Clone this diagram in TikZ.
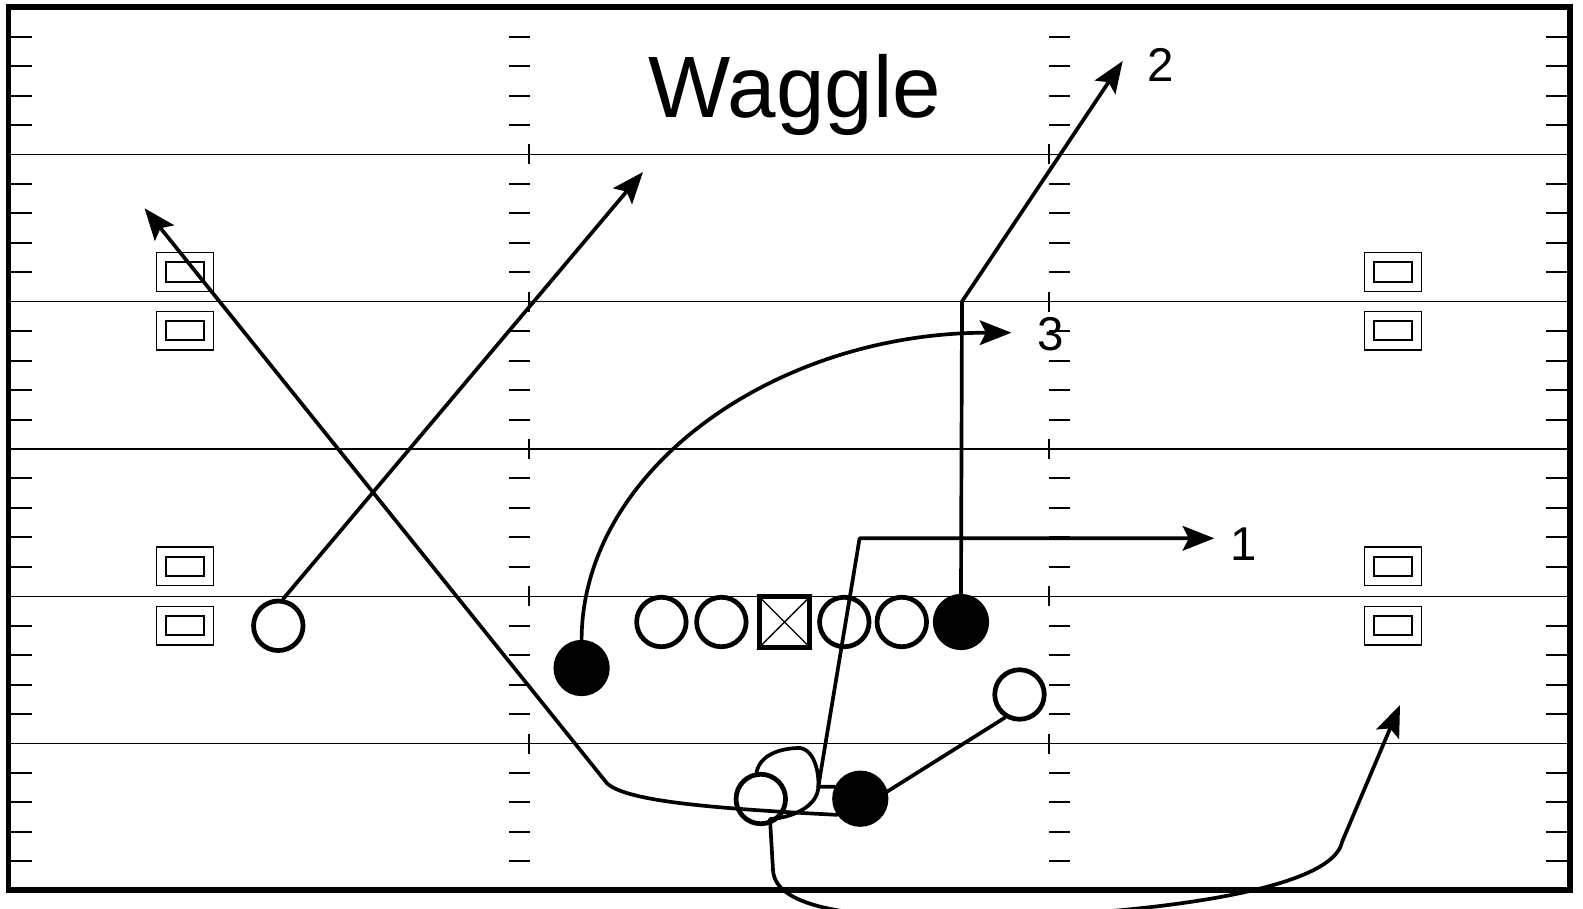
\documentclass[tikz,border=0pt]{standalone}
\usepackage{fontspec}
\setmainfont{Liberation Sans}
\usetikzlibrary{arrows.meta,calc}
\begin{document}
\begin{tikzpicture}[x=0.02cm,y=-0.02cm,
  route/.style={line width=2.1pt,line join=round,line cap=round},
  arr/.style={-{Stealth[length=18pt,width=14pt,inset=3.5pt]}},
  yard/.style={line width=0.8pt},
  tickmark/.style={line width=1.1pt},
  openp/.style={circle,draw,line width=2.7pt,minimum size=0.99cm,inner sep=0pt},
  fillp/.style={circle,draw,fill=black,line width=2.7pt,minimum size=1.03cm,inner sep=0pt},
  ctr/.style={draw,line width=2.7pt,minimum size=1.01cm,inner sep=0pt},
  rxo/.style={draw,line width=0.8pt,minimum width=1.15cm,minimum height=0.77cm,inner sep=0pt},
  rxi/.style={draw,line width=1.1pt,minimum width=0.77cm,minimum height=0.39cm,inner sep=0pt},
  lbl/.style={inner sep=0pt,font=\fontsize{27pt}{27pt}\selectfont},
  ttl/.style={inner sep=0pt,font=\fontsize{49.6pt}{49.6pt}\selectfont}
]
\useasboundingbox (0,0) rectangle (1583,909);
\clip (0,0) rectangle (1583,909);

% yard lines and ticks
\foreach \j in {-4,...,24}{
  \pgfmathsetmacro{\yy}{154.5+29.45*\j}
  \pgfmathtruncatemacro{\mm}{mod(\j+20,5)}
  \ifnum\mm=0
    \draw[yard] (8.5,\yy) -- (1570,\yy);
    \draw[tickmark] (528.6,\yy-10) -- (528.6,\yy+10);
    \draw[tickmark] (1049,\yy-10) -- (1049,\yy+10);
  \else
    \draw[tickmark] (8.5,\yy) -- (32,\yy);
    \draw[tickmark] (509,\yy) -- (529.6,\yy);
    \draw[tickmark] (1049,\yy) -- (1070,\yy);
    \draw[tickmark] (1546,\yy) -- (1570,\yy);
  \fi
}

% frame
\draw[line width=3.3pt] (8.5,7) rectangle (1570,890);

% title
\node[ttl] (title) at (795,95) {Waggle};

% receiver markers
\foreach \nm/\xx/\yy in {a/185/272,b/185/330.7,c/185/566.3,d/185/625.6,e/1393/272,f/1393/330.7,g/1393/566.3,h/1393/625.6}{
  \node[rxo] (rx\nm) at (\xx,\yy) {};
  \node[rxi] (ri\nm) at (\xx,\yy) {};
}

% players
\node[openp] (wr) at (278.3,625.8) {};
\node[fillp] (fb) at (581.6,668) {};
\node[openp] (lt) at (661.4,622) {};
\node[openp] (lg) at (721.4,622) {};
\node[ctr] (c) at (784.5,622) {};
\draw[line width=0.8pt] (c.north west) -- (c.south east) (c.north east) -- (c.south west);
\node[openp] (rg) at (844.3,622) {};
\node[openp] (rt) at (901.8,622) {};
\node[fillp] (te) at (961,622) {};
\node[openp] (wb) at (1019.5,694.5) {};
\node[fillp] (qb) at (860.3,798.7) {};
\node[openp] (tb) at (760.8,799) {};

% labels
\node[lbl] (l1) at (1244,544.5) {1};
\node[lbl] (l2) at (1160.6,65) {2};
\node[lbl] (l3) at (1050.7,333.8) {3};

% route end points
\coordinate (r1e) at (643,172);
\coordinate (r2c) at (607,783.3);
\coordinate (r2e) at (144.6,208.3);
\coordinate (r3e) at (1011.4,332.7);
\coordinate (r4c) at (962,301.5);
\coordinate (r4e) at (1122.7,61);
\coordinate (r5a) at (818.3,786.7);
\coordinate (r5b) at (859.6,538.3);
\coordinate (r5e) at (1214.3,538.3);
\coordinate (r6c) at (1342,842);
\coordinate (r6e) at (1400,705);

% routes
\draw[route,arr] (wr.80) -- (r1e);
\draw[route,arr] (qb.215) .. controls (700,808) and (625,800) .. (r2c) -- (r2e);
\draw[route,arr] (fb.north) .. controls (582,470.5) and (774,332.7) .. (r3e);
\draw[route,arr] (te.north) -- (r4c) -- (r4e);
\draw[route,arr] (qb.155) -- (r5a) -- (r5b) -- (r5e);
\draw[route] (qb.15) -- (wb.238);
\draw[route,arr] (tb.99) .. controls (760,755) and (780,748) .. (800,748)
  .. controls (815,750) and (820,775) .. (818,790)
  .. controls (815,808) and (790,818) .. (770,819)
  -- (773,870) .. controls (775,905) and (840,918) .. (960,918)
  .. controls (1080,918) and (1330,900) .. (r6c) -- (r6e);
\end{tikzpicture}
\end{document}
